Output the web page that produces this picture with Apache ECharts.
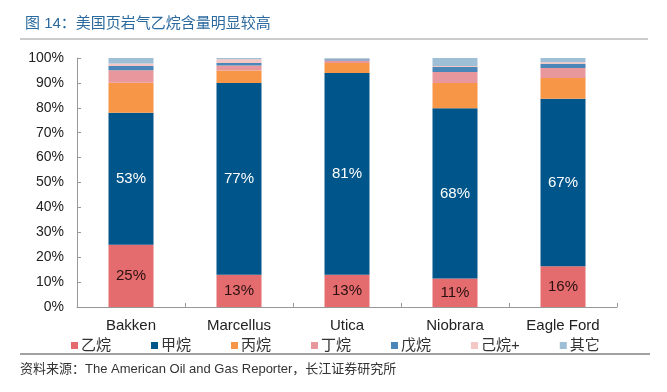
<!DOCTYPE html>
<html>
<head>
<meta charset="utf-8">
<script src="https://cdn.jsdelivr.net/npm/echarts@6/dist/echarts.min.js"></script>
<style>
html,body{margin:0;padding:0;background:#fff;}
#chart{width:667px;height:392px;}
</style>
</head>
<body>
<div id="chart"></div>
<script>
var categories = ['Bakken', 'Marcellus', 'Utica', 'Niobrara', 'Eagle Ford'];
var seriesNames = ['乙烷', '甲烷', '丙烷', '丁烷', '戊烷', '己烷+', '其它'];
var ethane  = [25, 13, 13, 11.4, 16.4];
var methane = [53, 77, 81, 68.4, 67.2];
var propane = [12.1, 5, 4, 10.2, 8.4];
var butane  = [5, 2, 1, 4.4, 4];
var pentane = [1.7, 1, 0.5, 2, 1.6];
var hexane  = [1, 1.5, 0.2, 0.4, 0.7];
var other   = [2.2, 0.5, 0.3, 3.2, 1.7];
var yTicks = [0, 10, 20, 30, 40, 50, 60, 70, 80, 90, 100];

var colors = ['#E46C6E', '#00558A', '#F79646', '#E8979C', '#4A86B8', '#F4C6C4', '#9EBFD6'];
var FONT = '"Liberation Sans", Arial, "Noto Sans CJK SC", sans-serif';
var values = [ethane, methane, propane, butane, pentane, hexane, other];

var series = values.map(function (arr, i) {
  var s = {
    name: seriesNames[i],
    type: 'bar',
    stack: 'total',
    barWidth: 45,
    data: arr,
    itemStyle: { color: colors[i] },
    emphasis: { disabled: true }
  };
  if (i === 0 || i === 1) {
    s.label = {
      show: true,
      position: 'inside',
      formatter: function (p) { return Math.round(p.value) + '%'; },
      color: i === 0 ? '#2a1010' : '#ffffff',
      fontSize: 15,
      fontFamily: FONT
    };
  }
  return s;
});

var chart = echarts.init(document.getElementById('chart'));
chart.setOption({
  animation: false,
  backgroundColor: '#ffffff',
  textStyle: { fontFamily: FONT },
  title: {
    text: '图 14：美国页岩气乙烷含量明显较高',
    left: 20, top: 11,
    textStyle: { color: '#2B6A9E', fontSize: 15, fontWeight: 'normal', fontFamily: FONT }
  },
  legend: {
    data: seriesNames,
    left: 66, top: 333,
    itemWidth: 7, itemHeight: 7, itemGap: 40,
    icon: 'rect',
    textStyle: { color: '#333', fontSize: 15, fontFamily: FONT, padding: [0, 0, 0, -2] }
  },
  grid: { left: 77, right: 50, top: 58, bottom: 85, containLabel: false },
  xAxis: {
    type: 'category',
    data: categories,
    axisLine: { lineStyle: { color: '#999', width: 1 } },
    axisTick: { show: true, inside: true, length: 4, lineStyle: { color: '#999' } },
    axisLabel: { color: '#222', fontSize: 15, margin: 11, fontFamily: FONT }
  },
  yAxis: {
    type: 'value',
    min: yTicks[0], max: yTicks[yTicks.length - 1], interval: 10,
    axisLine: { show: true, lineStyle: { color: '#999', width: 1 } },
    axisTick: { show: true, inside: true, length: 4, lineStyle: { color: '#999' } },
    splitLine: { show: false },
    axisLabel: { formatter: '{value}%', color: '#222', fontSize: 14, margin: 13, fontFamily: FONT }
  },
  graphic: [
    { type: 'line', shape: { x1: 20, y1: 39, x2: 648, y2: 39 }, style: { stroke: '#999', lineWidth: 1 } },
    { type: 'line', shape: { x1: 20, y1: 354, x2: 650, y2: 354 }, style: { stroke: '#444', lineWidth: 1 } },
    { type: 'text', left: 20, top: 363,
      style: { text: '资料来源：The American Oil and Gas Reporter，长江证券研究所', fill: '#333', font: '13px ' + FONT } }
  ],
  series: series
});
</script>
</body>
</html>
